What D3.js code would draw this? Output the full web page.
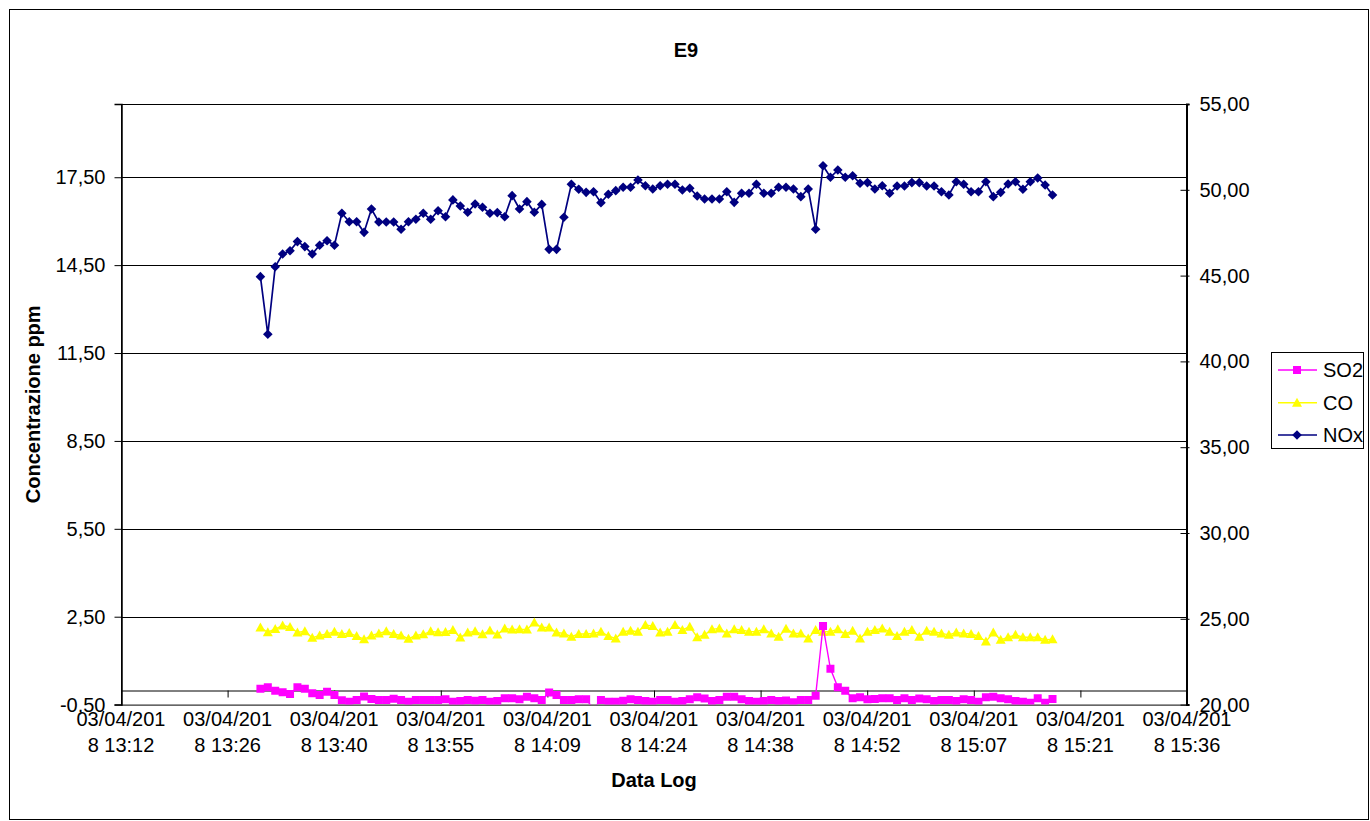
<!DOCTYPE html>
<html>
<head>
<meta charset="utf-8">
<script src="https://cdn.jsdelivr.net/npm/d3@7"></script>
<style>
  body { margin: 0; background: #fff; }
  svg { display: block; }
  text { font-family: "Liberation Sans", Arial, sans-serif; fill: #000; }
</style>
</head>
<body>
<svg id="chart" width="1370" height="821"></svg>
<script>
// ---- data (logged once a minute, 03/04/2018) ----
const logDate = "2018-04-03";
const times = [
  "13:30:50","13:31:50","13:32:50","13:33:50","13:34:50","13:35:50","13:36:50","13:37:50","13:38:50","13:39:50",
  "13:40:50","13:41:50","13:42:50","13:43:50","13:44:50","13:45:50","13:46:50","13:47:50","13:48:50","13:49:50",
  "13:50:50","13:51:50","13:52:50","13:53:50","13:54:50","13:55:50","13:56:50","13:57:50","13:58:50","13:59:50",
  "14:00:50","14:01:50","14:02:50","14:03:50","14:04:50","14:05:50","14:06:50","14:07:50","14:08:50","14:09:50",
  "14:10:50","14:11:50","14:12:50","14:13:50","14:14:50","14:15:50","14:16:50","14:17:50","14:18:50","14:19:50",
  "14:20:50","14:21:50","14:22:50","14:23:50","14:24:50","14:25:50","14:26:50","14:27:50","14:28:50","14:29:50",
  "14:30:50","14:31:50","14:32:50","14:33:50","14:34:50","14:35:50","14:36:50","14:37:50","14:38:50","14:39:50",
  "14:40:50","14:41:50","14:42:50","14:43:50","14:44:50","14:45:50","14:46:50","14:47:50","14:48:50","14:49:50",
  "14:50:50","14:51:50","14:52:50","14:53:50","14:54:50","14:55:50","14:56:50","14:57:50","14:58:50","14:59:50",
  "15:00:50","15:01:50","15:02:50","15:03:50","15:04:50","15:05:50","15:06:50","15:07:50","15:08:50","15:09:50",
  "15:10:50","15:11:50","15:12:50","15:13:50","15:14:50","15:15:50","15:16:50","15:17:50"
];

const so2 = [
  0.04, 0.09, -0.03, -0.08, -0.14, 0.09, 0.04, -0.11, -0.17, -0.06,
  -0.17, -0.35, -0.40, -0.34, -0.22, -0.31, -0.34, -0.34, -0.30, -0.34,
  -0.40, -0.34, -0.34, -0.34, -0.34, -0.32, -0.40, -0.38, -0.34, -0.37,
  -0.34, -0.40, -0.38, -0.28, -0.28, -0.32, -0.23, -0.28, -0.34, -0.09,
  -0.17, -0.34, -0.34, -0.32, -0.32, -0.65, -0.34, -0.40, -0.40, -0.37,
  -0.32, -0.34, -0.38, -0.40, -0.34, -0.34, -0.40, -0.38, -0.32, -0.25,
  -0.29, -0.38, -0.34, -0.23, -0.23, -0.32, -0.38, -0.40, -0.38, -0.34,
  -0.38, -0.36, -0.42, -0.34, -0.34, -0.20, 2.18, 0.72, 0.09, -0.03,
  -0.28, -0.25, -0.32, -0.31, -0.28, -0.28, -0.34, -0.28, -0.34, -0.29,
  -0.32, -0.38, -0.34, -0.34, -0.38, -0.32, -0.34, -0.40, -0.25, -0.23,
  -0.28, -0.32, -0.38, -0.40, -0.44, -0.28, -0.44, -0.31
];

const co = [
  2.13, 1.97, 2.08, 2.20, 2.15, 1.96, 2.00, 1.78, 1.86, 1.91,
  1.99, 1.91, 1.94, 1.84, 1.73, 1.86, 1.93, 2.00, 1.91, 1.86,
  1.75, 1.86, 1.90, 2.00, 1.97, 1.98, 2.05, 1.79, 1.96, 2.00,
  1.90, 2.03, 1.89, 2.10, 2.06, 2.07, 2.06, 2.30, 2.13, 2.13,
  1.96, 1.93, 1.82, 1.91, 1.91, 1.93, 1.99, 1.84, 1.76, 1.99,
  2.02, 1.99, 2.22, 2.18, 1.96, 1.99, 2.22, 2.05, 2.16, 1.80,
  1.88, 2.07, 2.10, 1.93, 2.07, 2.05, 1.99, 1.99, 2.07, 1.93,
  1.82, 2.09, 1.93, 1.93, 1.76, 2.05, 1.99, 1.99, 2.07, 1.91,
  2.02, 1.76, 1.99, 2.05, 2.10, 1.99, 1.84, 1.99, 2.05, 1.82,
  2.02, 1.99, 1.93, 1.88, 1.96, 1.93, 1.91, 1.84, 1.65, 1.96,
  1.71, 1.80, 1.88, 1.80, 1.80, 1.80, 1.71, 1.73
];

const nox = [
  44.94, 41.58, 45.52, 46.26, 46.45, 46.98, 46.69, 46.26, 46.77, 47.03,
  46.77, 48.63, 48.14, 48.14, 47.52, 48.88, 48.12, 48.12, 48.12, 47.70,
  48.14, 48.28, 48.63, 48.28, 48.78, 48.43, 49.41, 49.06, 48.69, 49.17,
  48.98, 48.63, 48.67, 48.43, 49.66, 48.88, 49.31, 48.69, 49.15, 46.53,
  46.53, 48.40, 50.32, 50.03, 49.85, 49.89, 49.25, 49.74, 49.95, 50.15,
  50.15, 50.57, 50.24, 50.05, 50.24, 50.32, 50.32, 49.99, 50.09, 49.64,
  49.46, 49.46, 49.46, 49.89, 49.27, 49.80, 49.80, 50.32, 49.80, 49.80,
  50.15, 50.15, 50.05, 49.60, 50.05, 47.70, 51.40, 50.73, 51.15, 50.73,
  50.82, 50.38, 50.42, 50.05, 50.24, 49.80, 50.22, 50.22, 50.42, 50.42,
  50.22, 50.22, 49.89, 49.70, 50.47, 50.32, 49.89, 49.89, 50.47, 49.60,
  49.85, 50.34, 50.47, 50.03, 50.47, 50.69, 50.28, 49.70
];

const leftTicks = [-0.5, 2.5, 5.5, 8.5, 11.5, 14.5, 17.5];
const rightTicks = [20, 25, 30, 35, 40, 45, 50, 55];
const xTickTimes = ["13:12:00","13:26:24","13:40:48","13:55:12","14:09:36","14:24:00",
                    "14:38:24","14:52:48","15:07:12","15:21:36","15:36:00"];
const xTickLabels = ["03/04/2018 13:12","03/04/2018 13:26","03/04/2018 13:40","03/04/2018 13:55",
                     "03/04/2018 14:09","03/04/2018 14:24","03/04/2018 14:38","03/04/2018 14:52",
                     "03/04/2018 15:07","03/04/2018 15:21","03/04/2018 15:36"];
const seriesNames = ["SO2", "CO", "NOx"];
const seriesColors = ["#FF00FF", "#FFFF00", "#000080"];

// ---- layout ----
const W = 1370, H = 821;
const plot = { left: 121, right: 1187, top: 104, bottom: 704.6 };
const FONT = 20;

const parse = d3.timeParse("%Y-%m-%d %H:%M:%S");
const tDates = times.map(t => parse(logDate + " " + t));
const tickDates = xTickTimes.map(t => parse(logDate + " " + t));

const x = d3.scaleTime()
  .domain([tickDates[0], tickDates[tickDates.length - 1]])
  .range([plot.left, plot.right]);
const yL = d3.scaleLinear().domain([-0.5, 20]).range([plot.bottom, plot.top]);
const yR = d3.scaleLinear().domain([20, 55]).range([plot.bottom, plot.top]);

// Italian number format: comma decimals, plain hyphen for negatives
const itFmt = d3.formatLocale({ decimal: ",", thousands: ".", grouping: [3], currency: ["€", ""], minus: "-" }).format(".2f");

const svg = d3.select("#chart");
svg.append("rect").attr("width", W).attr("height", H).attr("fill", "#fff");

// chart area border
svg.append("rect")
  .attr("x", 9.5).attr("y", 9.5).attr("width", W - 11).attr("height", H - 11)
  .attr("fill", "none").attr("stroke", "#000").attr("stroke-width", 1);

// title
svg.append("text")
  .attr("x", 686).attr("y", 50).attr("dy", "0.35em")
  .attr("text-anchor", "middle").attr("font-weight", "bold").attr("font-size", FONT)
  .text("E9");

// horizontal gridlines (primary axis)
svg.append("g").selectAll("line")
  .data(leftTicks.filter(v => v > -0.5))
  .join("line")
  .attr("x1", plot.left).attr("x2", plot.right)
  .attr("y1", d => Math.round(yL(d)) + 0.5).attr("y2", d => Math.round(yL(d)) + 0.5)
  .attr("stroke", "#000").attr("stroke-width", 1);

// plot area frame
svg.append("rect")
  .attr("x", plot.left + 0.5).attr("y", plot.top + 0.5)
  .attr("width", plot.right - plot.left - 1).attr("height", plot.bottom - plot.top)
  .attr("fill", "none").attr("stroke", "#000").attr("stroke-width", 1);

// left axis
const gL = svg.append("g").attr("transform", `translate(${plot.left + 0.5},0)`)
  .call(d3.axisLeft(yL).tickValues(leftTicks).tickSize(7).tickPadding(9).tickFormat(itFmt));
gL.select(".domain").attr("stroke", "#000").attr("stroke-width", 1.5);
gL.selectAll("text").attr("font-size", FONT).attr("font-family", "Liberation Sans, Arial, sans-serif").attr("fill", "#000");
gL.selectAll(".tick line").attr("stroke", "#000");

// right axis (NOx)
const gR = svg.append("g").attr("transform", `translate(${plot.right - 0.5},0)`)
  .call(d3.axisRight(yR).tickValues(rightTicks).tickSize(3).tickPadding(10).tickFormat(itFmt));
gR.select(".domain").attr("stroke", "#000").attr("stroke-width", 2);
gR.selectAll(".tick line").attr("x1", -6).attr("stroke", "#000");
gR.selectAll("text").attr("font-size", FONT).attr("font-family", "Liberation Sans, Arial, sans-serif").attr("fill", "#000");

// category axis crossing the primary axis at 0
const y0 = Math.round(yL(0)) + 0.5;
const gX = svg.append("g").attr("transform", `translate(0,${y0})`)
  .call(d3.axisBottom(x).tickValues(tickDates).tickSize(7).tickFormat(""));
gX.select(".domain").attr("stroke", "#000");
gX.selectAll(".tick line").attr("stroke", "#000");

// date labels along the bottom of the plot, wrapped on two lines
const xl = svg.append("g").selectAll("text")
  .data(tickDates)
  .join("text")
  .attr("x", d => x(d)).attr("y", 725.5)
  .attr("text-anchor", "middle").attr("font-size", FONT);
xl.each(function (d, i) {
  const s = xTickLabels[i];
  const t = d3.select(this);
  t.append("tspan").attr("x", x(d)).text(s.slice(0, 9));
  t.append("tspan").attr("x", x(d)).attr("dy", 26).text(s.slice(9));
});

// axis titles
svg.append("text")
  .attr("transform", `translate(33,${(plot.top + plot.bottom) / 2}) rotate(-90)`)
  .attr("dy", "0.35em").attr("text-anchor", "middle")
  .attr("font-weight", "bold").attr("font-size", FONT)
  .text("Concentrazione ppm");
svg.append("text")
  .attr("x", (plot.left + plot.right) / 2).attr("y", 780).attr("dy", "0.35em")
  .attr("text-anchor", "middle").attr("font-weight", "bold").attr("font-size", FONT)
  .text("Data Log");

// ---- series ----
svg.append("clipPath").attr("id", "plotClip")
  .append("rect").attr("x", plot.left).attr("y", plot.top)
  .attr("width", plot.right - plot.left).attr("height", plot.bottom - plot.top);

const markers = {
  square: "M-4,-4H4V4H-4Z",
  triangle: "M0,-5L5,4L-5,4Z",
  diamond: "M0,-4.8L4.8,0L0,4.8L-4.8,0Z"
};

const seriesDefs = [
  { name: "CO", values: co, y: yL, color: seriesColors[1], marker: markers.triangle, width: 1.4 },
  { name: "SO2", values: so2, y: yL, color: seriesColors[0], marker: markers.square, width: 1.4 },
  { name: "NOx", values: nox, y: yR, color: seriesColors[2], marker: markers.diamond, width: 1.7 }
];

const plotG = svg.append("g").attr("clip-path", "url(#plotClip)");
seriesDefs.forEach(s => {
  const pts = s.values.map((v, i) => [tDates[i], v]);
  plotG.append("path")
    .datum(pts)
    .attr("fill", "none").attr("stroke", s.color).attr("stroke-width", s.width)
    .attr("d", d3.line().x(d => x(d[0])).y(d => s.y(d[1])));
  plotG.append("g").selectAll("path")
    .data(pts.filter(d => s.y(d[1]) <= plot.bottom))
    .join("path")
    .attr("transform", d => `translate(${x(d[0])},${s.y(d[1])})`)
    .attr("d", s.marker)
    .attr("fill", s.color);
});

// ---- legend ----
const legend = svg.append("g");
legend.append("rect")
  .attr("x", 1271.5).attr("y", 352.5).attr("width", 92).attr("height", 96)
  .attr("fill", "#fff").attr("stroke", "#000").attr("stroke-width", 1);
const legendMarkers = [markers.square, markers.triangle, markers.diamond];
const legendRowY = [370, 402.7, 435];
seriesNames.forEach((name, i) => {
  const ly = legendRowY[i];
  legend.append("line")
    .attr("x1", 1278).attr("x2", 1317).attr("y1", ly).attr("y2", ly)
    .attr("stroke", seriesColors[i]).attr("stroke-width", 1.5);
  legend.append("path")
    .attr("transform", `translate(1297,${ly})`)
    .attr("d", legendMarkers[i]).attr("fill", seriesColors[i]);
  legend.append("text")
    .attr("x", 1323).attr("y", ly).attr("dy", "0.35em")
    .attr("font-size", FONT)
    .text(name);
});
</script>
</body>
</html>
